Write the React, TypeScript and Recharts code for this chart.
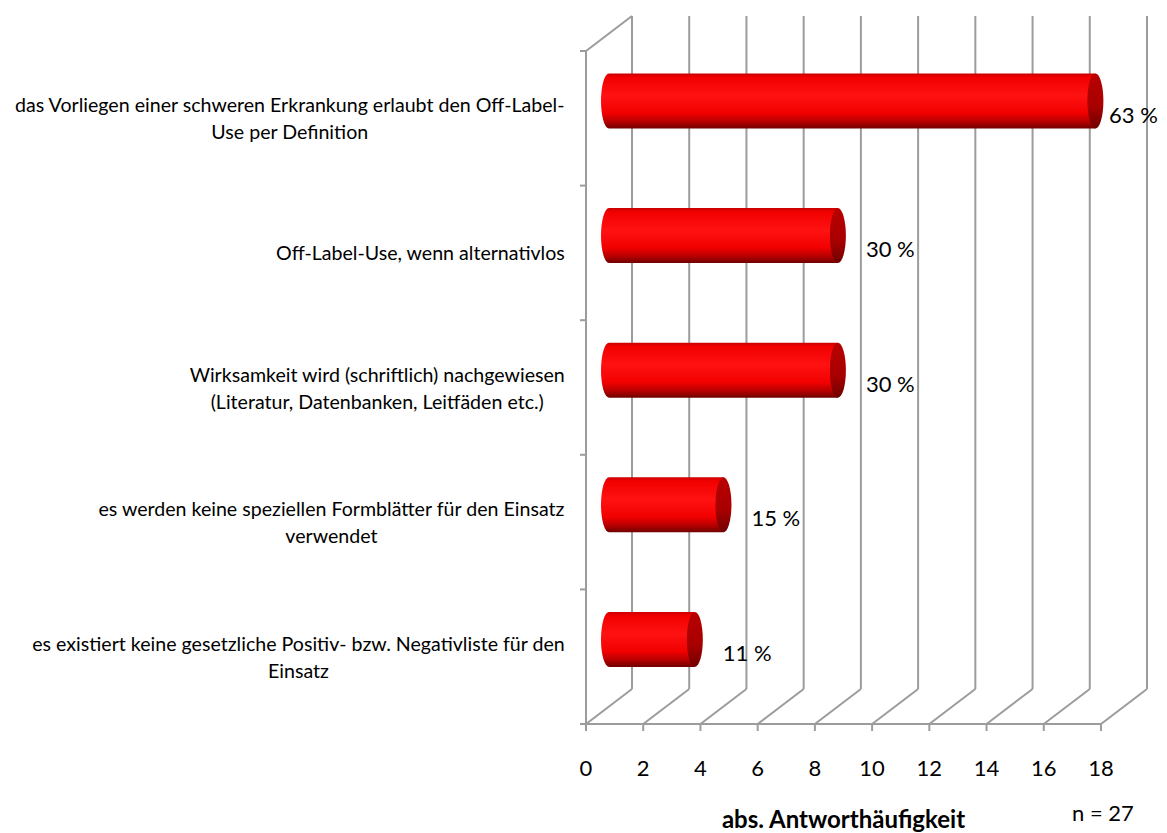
import React from 'react';
import { BarChart, Bar, CartesianGrid, LabelList, XAxis, YAxis } from 'recharts';

const categories = [
    'das Vorliegen einer schweren Erkrankung erlaubt den Off-Label-\nUse per Definition',
    'Off-Label-Use, wenn alternativlos',
    'Wirksamkeit wird (schriftlich) nachgewiesen\n(Literatur, Datenbanken, Leitfäden etc.)',
    'es werden keine speziellen Formblätter für den Einsatz\nverwendet',
    'es existiert keine gesetzliche Positiv- bzw. Negativliste für den\nEinsatz',
];
const counts = [17, 8, 8, 4, 3];
const percentLabels = ['63 %', '30 %', '30 %', '15 %', '11 %'];
const xTicks = [0, 2, 4, 6, 8, 10, 12, 14, 16, 18];
const axisTitle = 'abs. Antworthäufigkeit';
const sampleNote = 'n = 27';

const data = categories.map((name, i) => ({ name, count: counts[i], pct: percentLabels[i] }));

const W = 1167;
const H = 833;
const FONT = 'Lato, "Open Sans", sans-serif';
const GRID = '#9c9c9c';
const CAT_SIZE = 19.6;
// depth of the 3D box (back wall offset)
const DX = 46;
const DY = -35;

let ctx: CanvasRenderingContext2D | null = null;
const measure = (s: string, font: string) => {
    if (!ctx) ctx = document.createElement('canvas').getContext('2d');
    if (!ctx) return s.length * 8;
    ctx.font = font;
    return ctx.measureText(s).width;
};

const GridLine = (props: any) => {
    const { x1, y1, y2, index } = props;
    const top = Math.min(y1, y2);
    const bottom = Math.max(y1, y2);
    return (
        <g key={`g-${index}`}>
            <line x1={x1 + DX} y1={top + DY} x2={x1 + DX} y2={bottom + DY} stroke={GRID} strokeWidth={2} />
            <line x1={x1} y1={bottom} x2={x1 + DX} y2={bottom + DY} stroke={GRID} strokeWidth={2} />
            {index === 0 && (
                <line x1={x1} y1={top} x2={x1 + DX} y2={top + DY} stroke={GRID} strokeWidth={2} />
            )}
        </g>
    );
};

const CategoryTick = (props: any) => {
    const { x, y, payload, index } = props;
    const band = (724 - 51) / categories.length;
    const lines = String(payload.value).split('\n');
    const font = `${CAT_SIZE}px ${FONT}`;
    const blockW = Math.max(...lines.map((l) => measure(l, font)));
    const cx = x - 21 - blockW / 2;
    const lh = 27;
    const y0 = y - ((lines.length - 1) * lh) / 2;
    return (
        <g>
            <line x1={x - 6} y1={y - band / 2} x2={x} y2={y - band / 2} stroke={GRID} strokeWidth={2} />
            {index === categories.length - 1 && (
                <line x1={x - 6} y1={y + band / 2} x2={x} y2={y + band / 2} stroke={GRID} strokeWidth={2} />
            )}
            {lines.map((l, i) => (
                <text key={i} x={cx} y={y0 + i * lh} textAnchor="middle" dominantBaseline="central" fontSize={CAT_SIZE} fontFamily={FONT} fill="#000">
                    {l}
                </text>
            ))}
        </g>
    );
};

const Cylinder = (props: any) => {
    const { x, y, width, height } = props;
    const rx = 8;
    const ry = height / 2;
    const x0 = x + DX / 2;
    const x1 = x + width + DX / 2;
    const top = y + DY / 2;
    const bottom = top + height;
    return (
        <g>
            <path
                d={`M ${x1} ${top} L ${x0} ${top} A ${rx} ${ry} 0 0 0 ${x0} ${bottom} L ${x1} ${bottom} Z`}
                fill="url(#cylBody)"
            />
            <ellipse cx={x1} cy={top + ry} rx={rx} ry={ry} fill="url(#cylCap)" />
        </g>
    );
};

const PercentLabel = (props: any) => {
    const { x, y, width, height, index } = props;
    const capEnd = x + width + DX / 2 + 8;
    const lx = Math.min(capEnd + 20, W - 58);
    return (
        <text x={lx} y={y + height / 2 - 4.5} dominantBaseline="central" fontSize={22} fontFamily={FONT} fill="#000">
            {percentLabels[index]}
        </text>
    );
};

const AxisTitle = (props: any) => {
    const { viewBox } = props;
    const { x, y, width } = viewBox;
    return (
        <g>
            <text x={x + width / 2} y={y + 104} textAnchor="middle" fontSize={24} fontWeight="bold" fontFamily={FONT} fill="#000">
                {axisTitle}
            </text>
            <text x={x + width - 29} y={y + 97} fontSize={22} fontFamily={FONT} fill="#000">
                {sampleNote}
            </text>
        </g>
    );
};

export default function App() {
    return (
        <div style={{ position: 'absolute', left: 0, top: 0, width: W, height: H, background: '#fff', fontFamily: FONT }}>
            <BarChart width={W} height={H} layout="vertical" data={data} margin={{ top: 51, right: 66, left: 0, bottom: 0 }}>
                <defs>
                    <linearGradient id="cylBody" x1="0" y1="0" x2="0" y2="1">
                        <stop offset="0%" stopColor="#c80000" />
                        <stop offset="7%" stopColor="#f20000" />
                        <stop offset="40%" stopColor="#ff1212" />
                        <stop offset="72%" stopColor="#f20000" />
                        <stop offset="88%" stopColor="#b40000" />
                        <stop offset="100%" stopColor="#700000" />
                    </linearGradient>
                    <linearGradient id="cylCap" x1="0" y1="0" x2="0" y2="1">
                        <stop offset="0%" stopColor="#b80000" />
                        <stop offset="60%" stopColor="#a80000" />
                        <stop offset="100%" stopColor="#700000" />
                    </linearGradient>
                </defs>
                <CartesianGrid horizontal={false} vertical={GridLine} />
                <XAxis
                    type="number"
                    domain={[0, 18]}
                    ticks={xTicks}
                    interval={0}
                    height={109}
                    stroke={GRID}
                    axisLine={{ stroke: GRID, strokeWidth: 2 }}
                    tickLine={{ stroke: GRID, strokeWidth: 2 }}
                    tickSize={7}
                    tickMargin={29}
                    tick={{ fontSize: 22, fill: '#000', fontFamily: FONT }}
                    label={<AxisTitle />}
                />
                <YAxis
                    type="category"
                    dataKey="name"
                    width={586}
                    axisLine={{ stroke: GRID, strokeWidth: 2 }}
                    tickLine={false}
                    tickSize={0}
                    tickMargin={0}
                    interval={0}
                    tick={<CategoryTick />}
                />
                <Bar dataKey="count" barSize={55} shape={<Cylinder />} isAnimationActive={false}>
                    <LabelList dataKey="pct" content={<PercentLabel />} />
                </Bar>
            </BarChart>
        </div>
    );
}
